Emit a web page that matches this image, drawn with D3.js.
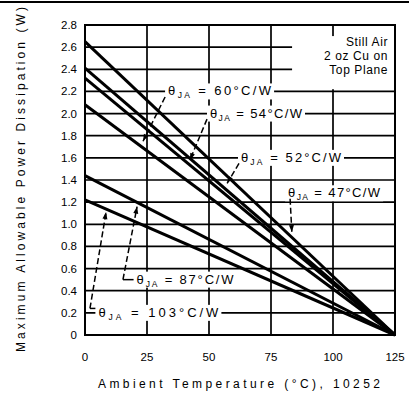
<!DOCTYPE html>
<html><head><meta charset="utf-8">
<script src="https://cdn.jsdelivr.net/npm/d3@7"></script>
<style>body{margin:0;background:#fff}svg{display:block}text{font-family:"Liberation Sans",Arial,sans-serif;fill:#000}</style>
</head><body><svg id="c" width="409" height="400"></svg>
<script>
// Data
const thetaJA = ["47", "52", "54", "60", "87", "103"];
const tempStart = 0, tempEnd = 125;
const powerAtStart = [2.65, 2.41, 2.32, 2.08, 1.44, 1.22];
const powerAtEnd = [0, 0, 0, 0, 0, 0];
const xTicks = [0, 25, 50, 75, 100, 125];
const yTicks = [0, 0.2, 0.4, 0.6, 0.8, 1.0, 1.2, 1.4, 1.6, 1.8, 2.0, 2.2, 2.4, 2.6, 2.8];
const yTickLabels = ["0", "0.2", "0.4", "0.6", "0.8", "1.0", "1.2", "1.4", "1.6", "1.8", "2.0", "2.2", "2.4", "2.6", "2.8"];
const noteLines = ["Still Air", "2 oz Cu on", "Top Plane"];

const svg = d3.select("#c");
const L = 85, R = 395, T = 25, B = 335;
const x = d3.scaleLinear().domain([0, 125]).range([L, R]);
const y = d3.scaleLinear().domain([0, 2.8]).range([B, T]);

// top rule
svg.append("line").attr("x1", 0).attr("x2", 409).attr("y1", 2).attr("y2", 2).attr("stroke", "#000").attr("stroke-width", 2);

// grid
const g = svg.append("g");
g.selectAll(".hg").data(yTicks.filter(v => v > 0 && v < 2.8)).join("line")
  .attr("x1", L).attr("x2", R).attr("y1", d => y(d)).attr("y2", d => y(d))
  .attr("stroke", "#000").attr("stroke-width", 1.7);
g.selectAll(".vg").data(xTicks.filter(v => v > 0 && v < 125)).join("line")
  .attr("y1", T).attr("y2", B).attr("x1", d => x(d)).attr("x2", d => x(d))
  .attr("stroke", "#000").attr("stroke-width", 1.7);

// note box background
svg.append("rect").attr("x", x(83.5)).attr("y", y(2.7)).attr("width", x(125) - x(83.5) - 1).attr("height", y(2.22) - y(2.7)).attr("fill", "#fff");
svg.selectAll(".note").data(noteLines).join("text")
  .attr("x", x(122.2)).attr("y", (d, i) => y(2.61) + i * 14)
  .attr("text-anchor", "end").attr("font-size", 12).attr("letter-spacing", 0.6).text(d => d);

// axes tick labels
svg.selectAll(".yl").data(yTicks).join("text")
  .attr("x", 77).attr("y", d => y(d) + 4).attr("text-anchor", "end").attr("font-size", 11.5)
  .text((d, i) => yTickLabels[i]);
svg.selectAll(".xl").data(xTicks).join("text")
  .attr("x", d => x(d)).attr("y", 361).attr("text-anchor", "middle").attr("font-size", 11.5)
  .text(d => d);

// axis titles
svg.append("text").attr("x", 98).attr("y", 388).attr("font-size", 12)
  .attr("textLength", 282).attr("lengthAdjust", "spacing")
  .text("Ambient Temperature (°C), 10252");
svg.append("text").attr("transform", "translate(25,352) rotate(-90)").attr("font-size", 12)
  .attr("textLength", 345).attr("lengthAdjust", "spacing")
  .text("Maximum Allowable Power Dissipation (W)");

// data lines
const lineData = thetaJA.map((t, i) => [[tempStart, powerAtStart[i]], [tempEnd, powerAtEnd[i]]]);
svg.selectAll(".dl").data(lineData).join("path")
  .attr("d", d3.line().x(d => x(d[0])).y(d => y(d[1])))
  .attr("fill", "none").attr("stroke", "#000").attr("stroke-width", 3);

// border
svg.append("rect").attr("x", L).attr("y", T).attr("width", R - L).attr("height", B - T)
  .attr("fill", "none").attr("stroke", "#000").attr("stroke-width", 2);

// annotations (data coordinates)
const ann = [
  {t: "60", lx: 33.5, ly: 2.20, w: 103, from: [32.3, 2.15], to: [23.4, 1.75]},
  {t: "54", lx: 50.4, ly: 2.00, w: 92, from: [49.2, 1.95], to: [42.3, 1.58]},
  {t: "52", lx: 62.9, ly: 1.60, w: 100, from: [62.1, 1.55], to: [57.3, 1.37]},
  {t: "47", lx: 81.9, ly: 1.28, w: 92, from: [82.7, 1.23], to: [83.4, 0.93]},
  {t: "87", lx: 20.8, ly: 0.50, w: 97, corner: [15.3, 0.50], to: [21.0, 1.16]},
  {t: "103", lx: 5.4, ly: 0.20, w: 120, corner: [2.0, 0.24], to: [8.5, 1.11]}
];
ann.forEach(a => {
  svg.append("rect").attr("x", x(a.lx) - 3).attr("y", y(a.ly) - 8).attr("width", a.w + 6).attr("height", 16).attr("fill", "#fff");
  const tx = svg.append("text").attr("x", x(a.lx)).attr("y", y(a.ly) + 4).attr("font-size", 13)
    .attr("textLength", a.w).attr("lengthAdjust", "spacing");
  tx.append("tspan").text("θ");
  tx.append("tspan").attr("dy", 3).attr("font-size", 8.5).text("JA");
  tx.append("tspan").attr("dy", -3).text(" = " + a.t + "°C/W");
  let p0, p1 = [x(a.to[0]), y(a.to[1])];
  if (a.corner) {
    p0 = [x(a.corner[0]), y(a.corner[1])];
    svg.append("line").attr("x1", p0[0]).attr("y1", p0[1]).attr("x2", x(a.lx) - 3).attr("y2", p0[1])
      .attr("stroke", "#000").attr("stroke-width", 1.5);
  } else {
    p0 = [x(a.from[0]), y(a.from[1])];
  }
  svg.append("line").attr("x1", p0[0]).attr("y1", p0[1]).attr("x2", p1[0]).attr("y2", p1[1])
    .attr("stroke", "#000").attr("stroke-width", 1.5).attr("stroke-dasharray", "6,3");
  const ang = Math.atan2(p1[1] - p0[1], p1[0] - p0[0]);
  const len = 7, hw = 2.5;
  const bx = p1[0] - len * Math.cos(ang), by = p1[1] - len * Math.sin(ang);
  const nx = -Math.sin(ang) * hw, ny = Math.cos(ang) * hw;
  svg.append("path").attr("d", `M${p1[0]},${p1[1]}L${bx + nx},${by + ny}L${bx - nx},${by - ny}Z`).attr("fill", "#000");
});
</script></body></html>
